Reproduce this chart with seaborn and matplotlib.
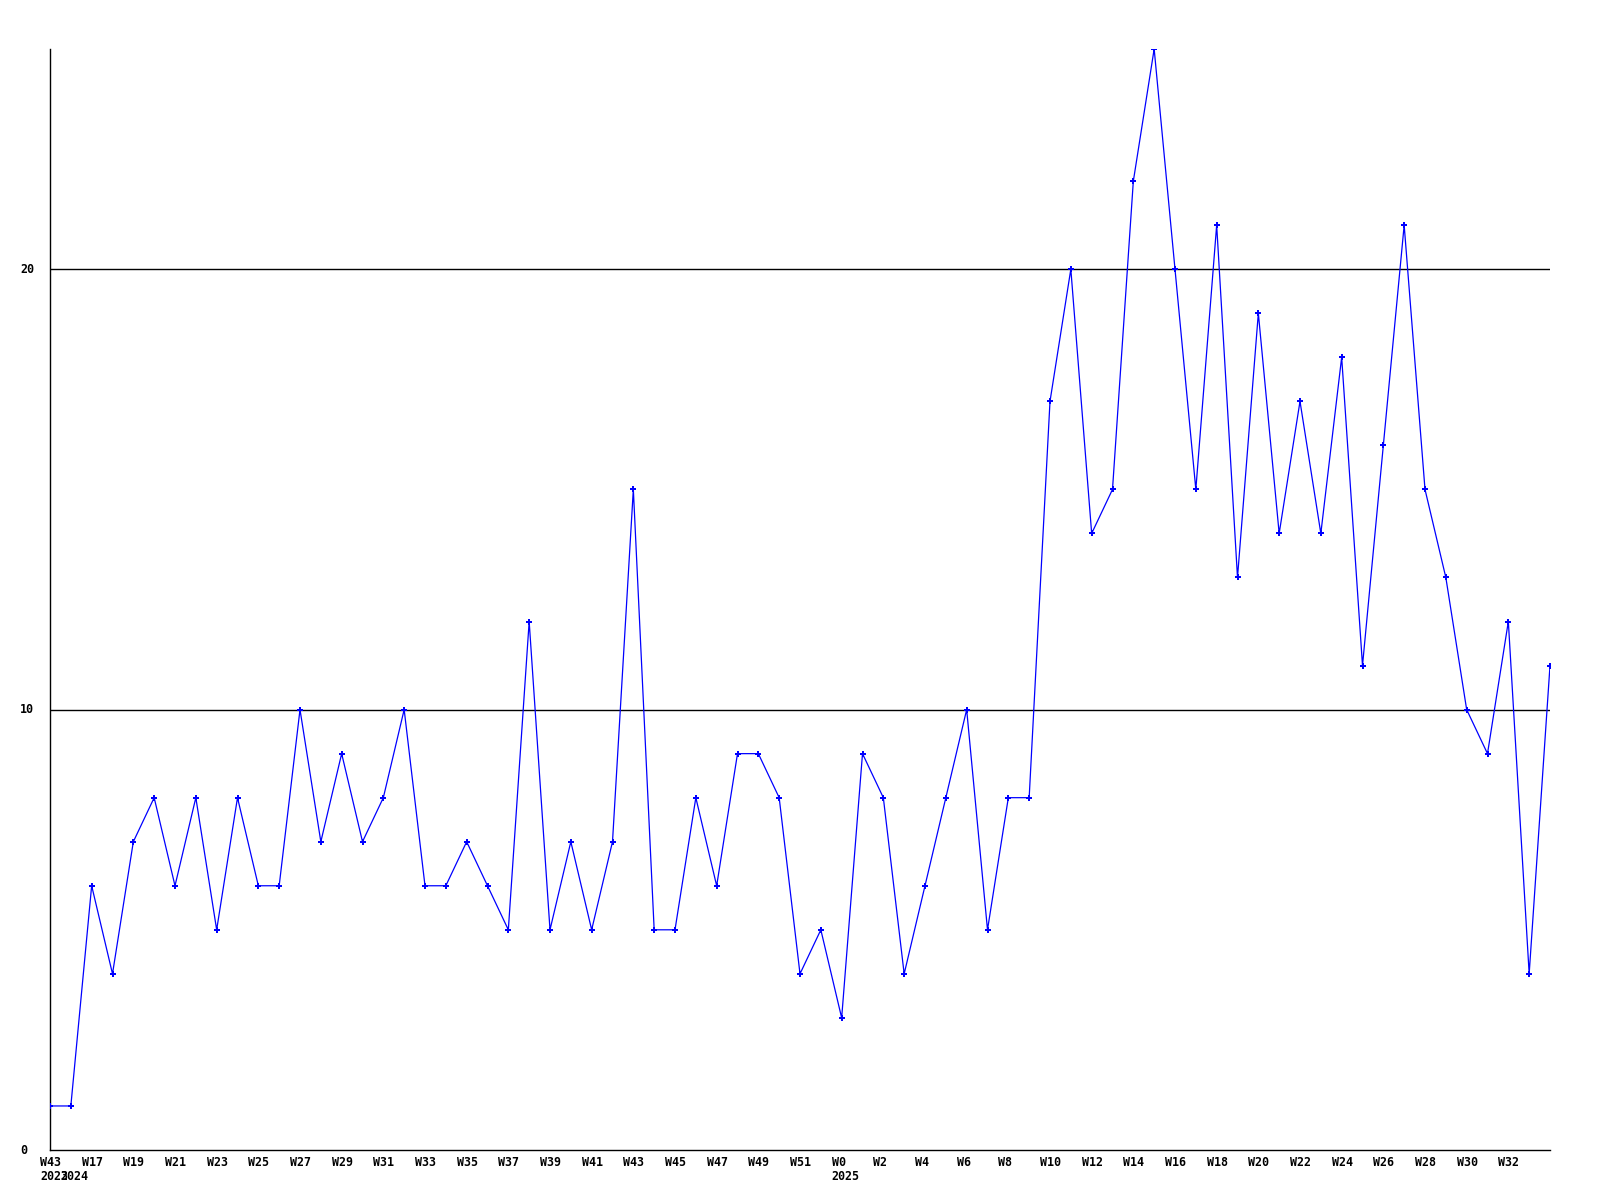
import matplotlib
matplotlib.use('Agg')
import matplotlib.pyplot as plt
import matplotlib.transforms as mtransforms
import seaborn as sns
import pandas as pd

# Dados semanais
years = [2023] + [2024] * 37 + [2025] * 35
weeks = [43,
         16, 17, 18, 19, 20, 21, 22, 23, 24, 25, 26, 27, 28, 29, 30, 31, 32, 33,
         34, 35, 36, 37, 38, 39, 40, 41, 42, 43, 44, 45, 46, 47, 48, 49, 50, 51, 52,
         0, 1, 2, 3, 4, 5, 6, 7, 8, 9, 10, 11, 12, 13, 14, 15, 16, 17, 18,
         19, 20, 21, 22, 23, 24, 25, 26, 27, 28, 29, 30, 31, 32, 33, 34]
counts = [1, 1, 6, 4, 7, 8, 6, 8, 5, 8, 6, 6, 10, 7, 9, 7, 8, 10, 6, 6,
          7, 6, 5, 12, 5, 7, 5, 7, 15, 5, 5, 8, 6, 9, 9, 8, 4, 5, 3, 9,
          8, 4, 6, 8, 10, 5, 8, 8, 17, 20, 14, 15, 22, 25, 20, 15, 21, 13, 19, 14,
          17, 14, 18, 11, 16, 21, 15, 13, 10, 9, 12, 4, 11]
y_ticks = [0, 10, 20]

df = pd.DataFrame({'ano': years, 'semana': weeks, 'n': counts})
df['pos'] = range(len(df))

sns.set_style('white')
fig = plt.figure(figsize=(16, 12), dpi=100)
ax = fig.add_axes([50 / 1600, 50 / 1200, 1500 / 1600, 1101 / 1200])

for v in y_ticks[1:]:
    ax.axhline(v, color='black', linewidth=1.0, zorder=1)

sns.lineplot(data=df, x='pos', y='n', ax=ax, color='#0000ff', linewidth=0.9,
             marker='P', markersize=4, markeredgewidth=0, zorder=3)

last = len(df) - 1
ax.set_xlim(0, last)
ax.set_ylim(0, 25)
ax.set_xticks([])
ax.set_yticks([])
ax.set_xlabel('')
ax.set_ylabel('')
for s in ['top', 'right']:
    ax.spines[s].set_visible(False)
for s in ['left', 'bottom']:
    ax.spines[s].set_color('black')
    ax.spines[s].set_linewidth(1.0)

font = dict(family='DejaVu Sans Mono', fontweight='bold', fontsize=8.4, color='black')

# rótulos do eixo x (semana a cada 2 pontos, ano no início de cada ano)
trans_x = ax.get_xaxis_transform()
lab_trans = mtransforms.offset_copy(trans_x, fig=fig, x=-10, y=-12, units='dots')
year_trans = mtransforms.offset_copy(trans_x, fig=fig, x=-10, y=-27, units='dots')
prev_year = None
for i, row in df.iterrows():
    if i % 2 == 0 and i < last:
        ax.text(row['pos'], 0, f"W{row['semana']}", transform=lab_trans,
                ha='left', va='center', **font)
    if row['ano'] != prev_year:
        ax.text(row['pos'], 0, str(row['ano']), transform=year_trans,
                ha='left', va='center', **font)
        prev_year = row['ano']

# rótulos do eixo y
trans_y = mtransforms.blended_transform_factory(fig.transFigure, ax.transData)
for v in y_ticks:
    ax.text(20 / 1600, v, str(v), transform=trans_y, ha='left', va='center', **font)

fig.savefig('out.png', dpi=100, facecolor='white')
